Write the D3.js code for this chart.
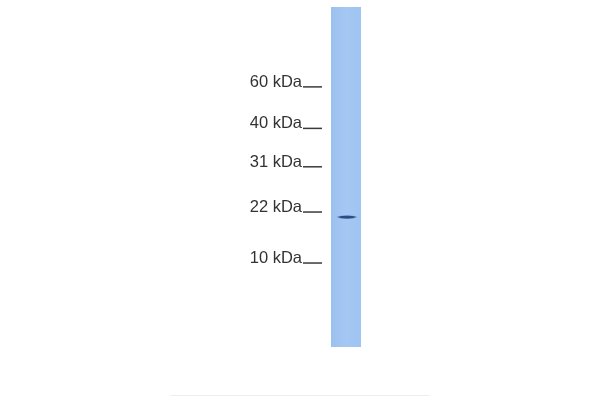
<!DOCTYPE html>
<html>
<head>
<meta charset="utf-8">
<script src="https://cdn.jsdelivr.net/npm/d3@7"></script>
<style>
  html, body { margin: 0; padding: 0; background: #fff; }
</style>
</head>
<body>
<svg id="chart" width="600" height="400"></svg>
<script>
// marker ladder (kDa) and relative migration along the lane (0 = well, 1 = end)
const markerLabels = ['60 kDa', '40 kDa', '31 kDa', '22 kDa', '10 kDa'];
const markerRf = [0.235, 0.357, 0.47, 0.603, 0.753];

// detected bands in the single sample lane
const bandRf = [0.618];
const bandIntensity = [0.9];

const width = 600, height = 400;
const lane = { x: 331, w: 30, top: 7, bottom: 347 };

const svg = d3.select('#chart');

// scale: relative migration -> pixel y
const y = d3.scaleLinear().domain([0, 1]).range([lane.top, lane.bottom]);

const defs = svg.append('defs');
const grad = defs.append('linearGradient')
  .attr('id', 'laneGrad')
  .attr('x1', 0).attr('x2', 1).attr('y1', 0).attr('y2', 0);
grad.append('stop').attr('offset', '0%').attr('stop-color', '#9dc1ef');
grad.append('stop').attr('offset', '50%').attr('stop-color', '#a4c7f3');
grad.append('stop').attr('offset', '100%').attr('stop-color', '#a0c4f1');

const blur = defs.append('filter').attr('id', 'bandBlur')
  .attr('x', '-20%').attr('y', '-100%').attr('width', '140%').attr('height', '300%');
blur.append('feGaussianBlur').attr('stdDeviation', '0.8 0.7');

const textBlur = defs.append('filter').attr('id', 'textBlur');
textBlur.append('feGaussianBlur').attr('stdDeviation', 0.35);

// lane
svg.append('rect')
  .attr('x', lane.x)
  .attr('y', y(0))
  .attr('width', lane.w)
  .attr('height', y(1) - y(0))
  .attr('fill', 'url(#laneGrad)');

// bands
svg.append('g')
  .selectAll('ellipse')
  .data(bandRf)
  .join('ellipse')
  .attr('cx', lane.x + lane.w / 2 + 1)
  .attr('cy', d => y(d))
  .attr('rx', 9)
  .attr('ry', 1.6)
  .attr('fill', '#1f3f78')
  .attr('opacity', (d, i) => bandIntensity[i])
  .attr('filter', 'url(#bandBlur)');

// marker labels
const markers = svg.append('g')
  .attr('filter', 'url(#textBlur)')
  .selectAll('g')
  .data(markerRf)
  .join('g');

markers.append('text')
  .attr('x', 302)
  .attr('y', d => y(d))
  .attr('text-anchor', 'end')
  .attr('font-family', 'Liberation Sans, Arial, sans-serif')
  .attr('font-size', 16.5)
  .attr('fill', '#333')
  .text((d, i) => markerLabels[i]);

markers.append('line')
  .attr('x1', 303)
  .attr('x2', 322)
  .attr('y1', d => y(d))
  .attr('y2', d => y(d))
  .attr('stroke', '#3a3a3a')
  .attr('stroke-width', 1.5);

// faint footer rule
svg.append('line')
  .attr('x1', 170).attr('x2', 430)
  .attr('y1', 395.5).attr('y2', 395.5)
  .attr('stroke', '#eeeeee')
  .attr('stroke-width', 1);
</script>
</body>
</html>
